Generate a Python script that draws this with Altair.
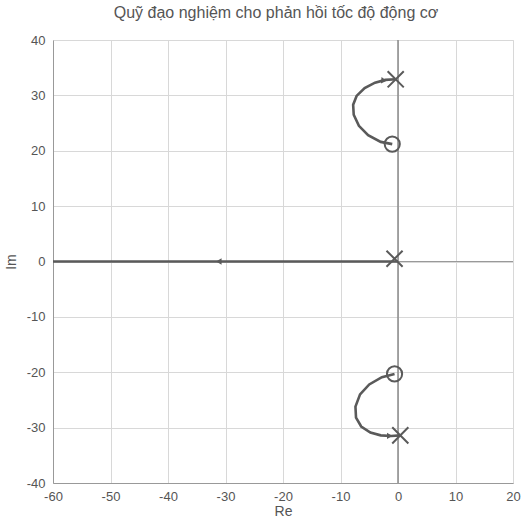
import altair as alt
import pandas as pd

# Root locus branches
upper_re = [-1.0, -3.0, -5.2, -6.8, -7.7, -7.8, -7.2, -5.8, -4.0, -2.2, -0.4]
upper_im = [21.2, 21.6, 22.8, 24.5, 26.5, 28.3, 29.9, 31.3, 32.3, 32.8, 32.9]
lower_re = [-0.6, -2.8, -5.0, -6.6, -7.4, -7.3, -6.4, -4.8, -3.0, -1.2, 0.4]
lower_im = [-20.3, -20.9, -22.2, -24.0, -26.2, -28.2, -29.8, -30.9, -31.4, -31.5, -31.4]
real_re = [-60, 0.0]
real_im = [0.0, 0.0]

pole_re = [-0.4, -0.6, 0.4]
pole_im = [32.9, 0.5, -31.4]
zero_re = [-1.0, -0.6]
zero_im = [21.2, -20.3]

arrow_re = [-2.6, -1.6, -31.0]
arrow_im = [32.7, -31.5, 0.0]
arrow_angle = [95, 90, 270]

x_ticks = [-60, -50, -40, -30, -20, -10, 0, 10, 20]
y_ticks = [-40, -30, -20, -10, 0, 10, 20, 30, 40]

FONT = "Liberation Sans"
LINE = "#5a5a5a"

xs = alt.Scale(domain=[-60, 20], nice=False, zero=False)
ys = alt.Scale(domain=[-40, 40], nice=False, zero=False)

branches = pd.DataFrame(
    {"re": upper_re, "im": upper_im, "b": "u", "o": range(len(upper_re))}
)
branches = pd.concat([
    branches,
    pd.DataFrame({"re": lower_re, "im": lower_im, "b": "l", "o": range(len(lower_re))}),
    pd.DataFrame({"re": real_re, "im": real_im, "b": "r", "o": range(len(real_re))}),
])

xaxis = alt.Axis(values=x_ticks, title="Re", grid=True, gridColor="#d8d8d8",
                 tickSize=0, labelPadding=7, labelFont=FONT, labelFontSize=13,
                 labelColor="#555", titleFont=FONT, titleFontSize=14,
                 titleFontWeight="normal", titleColor="#555", titlePadding=1,
                 domainColor="#999", labelFlush=False,
                 labelExpr="'' + datum.value")
yaxis = alt.Axis(values=y_ticks, title="Im", grid=True, gridColor="#d8d8d8",
                 tickSize=0, labelPadding=8, labelFont=FONT, labelFontSize=13,
                 labelColor="#555", titleFont=FONT, titleFontSize=14,
                 titleFontWeight="normal", titleColor="#555", titlePadding=8,
                 domainColor="#999", labelFlush=False,
                 labelExpr="'' + datum.value")

# zero axes
zero_df = pd.DataFrame({"re": [0.0, 20.0], "im": [0.0, 0.0]})
hzero = alt.Chart(zero_df).mark_line(color="#999", strokeWidth=1.2).encode(
    x=alt.X("re:Q", scale=xs, axis=xaxis), y=alt.Y("im:Q", scale=ys, axis=yaxis))
vzero_df = pd.DataFrame({"re": [0.0, 0.0], "im": [-40.0, 40.0]})
vzero = alt.Chart(vzero_df).mark_line(color="#8a8a8a", strokeWidth=1.5).encode(
    x=alt.X("re:Q", scale=xs), y=alt.Y("im:Q", scale=ys))

lines = alt.Chart(branches).mark_line(color=LINE, strokeWidth=2.6).encode(
    x=alt.X("re:Q", scale=xs), y=alt.Y("im:Q", scale=ys),
    detail="b:N", order="o:Q")

poles = alt.Chart(pd.DataFrame({"re": pole_re, "im": pole_im})).mark_point(
    shape="M-1,-1L1,1M-1,1L1,-1", size=260, strokeWidth=2, color=LINE,
    filled=False, opacity=1).encode(
    x=alt.X("re:Q", scale=xs), y=alt.Y("im:Q", scale=ys))

zeros = alt.Chart(pd.DataFrame({"re": zero_re, "im": zero_im})).mark_point(
    shape="circle", size=230, strokeWidth=2, color=LINE, filled=False,
    opacity=1).encode(
    x=alt.X("re:Q", scale=xs), y=alt.Y("im:Q", scale=ys))

arrows = alt.Chart(pd.DataFrame({"re": arrow_re, "im": arrow_im, "a": arrow_angle})).mark_point(
    shape="triangle", size=40, filled=True, color=LINE, opacity=1).encode(
    x=alt.X("re:Q", scale=xs), y=alt.Y("im:Q", scale=ys),
    angle=alt.Angle("a:Q", scale=None))

chart = alt.layer(hzero, vzero, lines, poles, zeros, arrows).properties(
    width=460, height=443,
    title=alt.TitleParams("Quỹ đạo nghiệm cho phản hồi tốc độ động cơ",
                          font=FONT, fontSize=16, fontWeight="normal",
                          color="#555", offset=13, dx=-7),
    autosize=alt.AutoSizeParams(type="none"),
    padding={"left": 53, "top": 40, "right": 15, "bottom": 36},
).configure_view(stroke="#999", strokeWidth=1.2).configure(background="white")

chart.save("out.html", embed_options={"renderer": "svg", "actions": False})
